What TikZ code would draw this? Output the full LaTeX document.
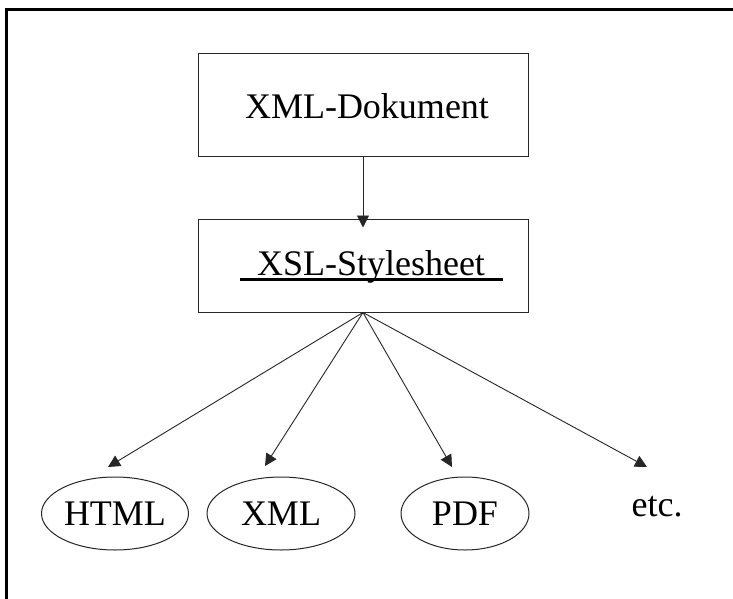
\documentclass[tikz,border=0pt]{standalone}
\usepackage{fontspec}
\setmainfont{Liberation Serif}
\usetikzlibrary{arrows.meta,shapes.geometric}
\begin{document}
\begin{tikzpicture}[x=1pt,y=-1pt,
  txt/.style={font=\fontsize{36}{40}\selectfont},
  docbox/.style={draw=black!85,line width=1pt,minimum width=330pt,inner sep=0pt},
  outfmt/.style={ellipse,draw=black!85,line width=1pt,inner sep=0pt,minimum height=73pt,txt},
  flow/.style={draw=black!85,line width=0.9pt,-{Triangle[length=12pt,width=12pt]}}]
  \useasboundingbox (0,0) rectangle (733,599);
  \fill[white] (0,0) rectangle (733,599);
  % outer frame (only top and left edges fall inside the page)
  \draw[line width=3pt] (6,610) -- (6,9.5) -- (745,9.5);

  % source document and stylesheet
  \node[docbox,minimum height=102pt] (b1) at (363,105) {};
  \node[txt,anchor=base] (t1) at (367,118) {XML-Dokument};
  \node[docbox,minimum height=93pt] (b2) at (363,265.5) {};
  \node[txt,anchor=base] (t2) at (371,275) {XSL-Stylesheet};
  \draw[line width=3pt] ([xshift=-131pt,yshift=-4pt]t2.base) -- ([xshift=132pt,yshift=-4pt]t2.base);

  % output formats
  \node[outfmt,minimum width=147pt] (html) at (115,513.5) {HTML};
  \node[outfmt,minimum width=148pt] (xml) at (281,513.5) {XML};
  \node[outfmt,minimum width=128pt] (pdf) at (465,513.5) {PDF};
  \node[txt,anchor=base] (etc) at (657,516) {etc.};

  \coordinate (aHTML) at (108,467);
  \coordinate (aXML) at (265,466);
  \coordinate (aPDF) at (452,467);
  \coordinate (aETC) at (647,467);

  \draw[flow] (b1.south) -- ([yshift=-9pt]b2.north);
  \draw[flow] (b2.south) -- (aHTML);
  \draw[flow] (b2.south) -- (aXML);
  \draw[flow] (b2.south) -- (aPDF);
  \draw[flow] (b2.south) -- (aETC);
\end{tikzpicture}
\end{document}
